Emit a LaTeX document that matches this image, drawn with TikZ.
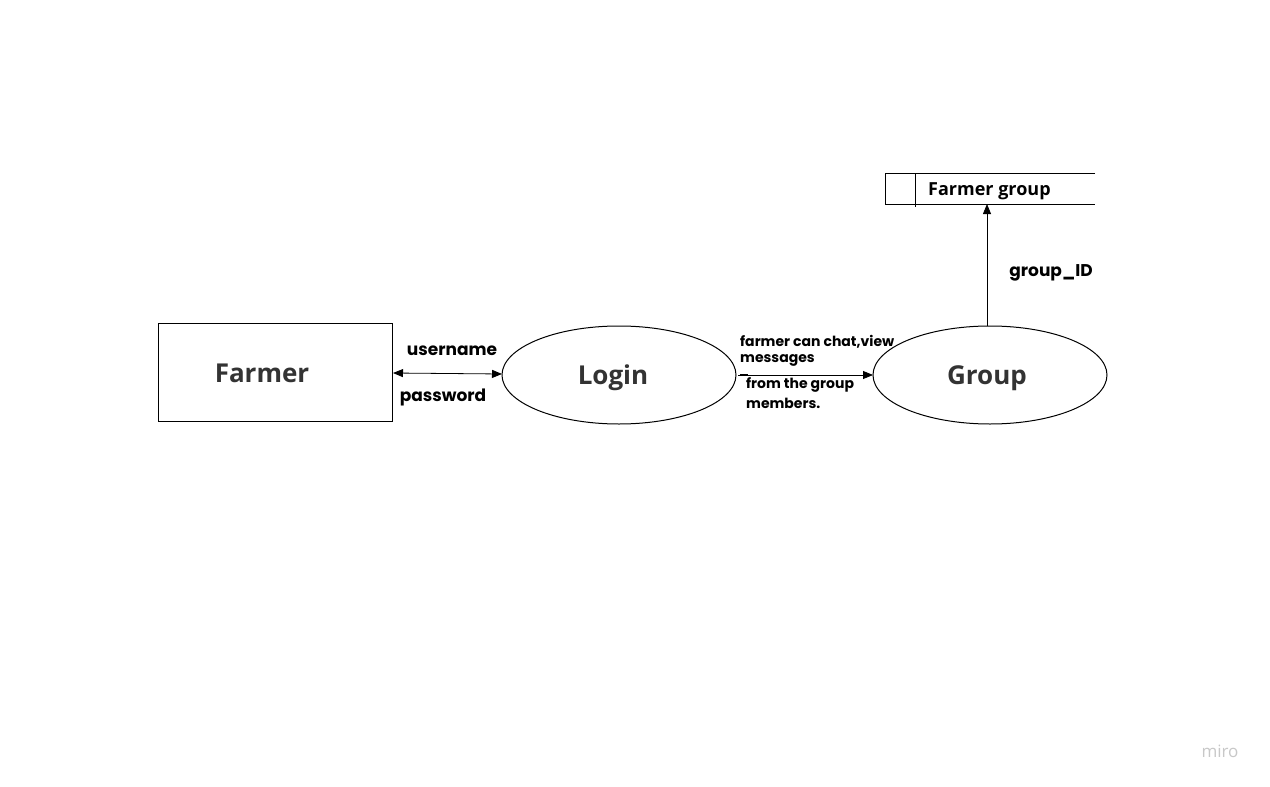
\documentclass[tikz,border=0pt]{standalone}
\usepackage{fontspec}
\setmainfont{Poppins}
\newfontfamily\headfont{Open Sans}
\usetikzlibrary{arrows.meta,shapes.geometric}
\definecolor{headgray}{HTML}{333333}
\definecolor{wmgray}{HTML}{C8C8C8}
\tikzset{
  shape line/.style={draw=black, line width=1pt},
  flow/.style={line width=0.8pt, -{Triangle[length=10pt,width=8pt]}},
  headtext/.style={font=\headfont\bfseries\fontsize{26}{30}\selectfont, text=headgray},
  lbl/.style={font=\bfseries\fontsize{17}{20}\selectfont, inner sep=0pt},
  smalllbl/.style={font=\bfseries\fontsize{14}{16}\selectfont, inner sep=0pt, anchor=west},
}
\begin{document}
\begin{tikzpicture}[x=1pt,y=-1pt]
\useasboundingbox[fill=white] (0,0) rectangle (1270,787);
% entity
\node[shape line, rectangle, minimum width=234pt, minimum height=98pt, inner sep=0pt] (farmer) at (275,372) {};
\node[headtext] (farmerT) at (262,373) {Farmer};
% processes
\node[shape line, ellipse, minimum width=234pt, minimum height=98pt, inner sep=0pt] (login) at (619,375) {};
\node[headtext] (loginT) at (613,378) {Login};
\node[shape line, ellipse, minimum width=234pt, minimum height=98pt, inner sep=0pt] (group) at (990,375) {};
\node[headtext] (groupT) at (987,378) {Group};
% data store
\coordinate (dsTL) at (885,173);
\coordinate (dsTR) at (1095,173);
\coordinate (dsBL) at (885,204);
\coordinate (dsBR) at (1095,204);
\coordinate (dsIT) at (915,173);
\coordinate (dsIB) at (915,207);
\draw[line width=0.9pt] (dsTR) -- (dsTL) -- (dsBL) -- (dsBR);
\draw[line width=0.9pt] (dsIT) -- (dsIB);
\node[font=\headfont\bfseries\fontsize{18}{21}\selectfont, anchor=west, inner sep=0pt] (storeT) at (928,191) {Farmer group};
\coordinate (storeIn) at (987,204);
% connectors
\coordinate (fR) at (393,373);
\coordinate (lL) at (502,374);
\draw[line width=0.8pt, {Triangle[length=10pt,width=8pt]}-{Triangle[length=10pt,width=8pt]}] (fR) -- (lL);
\node[lbl] (uname) at (452,351) {username};
\node[lbl] (pwd) at (443,397) {password};
\coordinate (lR) at (738,375);
\coordinate (gL) at (873,375);
\draw[flow] (lR) -- (gL);
\coordinate (tickA) at (740,374);
\coordinate (tickB) at (748,374);
\draw[line width=1pt] (tickA) -- (tickB);
\node[smalllbl] (l1) at (740,342) {farmer can chat,view};
\node[smalllbl] (l2) at (740,360) {messages};
\node[smalllbl] (l3) at (746,385) {from the group};
\node[smalllbl] (l4) at (746,403) {members.};
\coordinate (gT) at (987,326);
\draw[flow] (gT) -- (storeIn);
\node[lbl] (gid) at (1051,273) {group\_ID};
% watermark
\node[font=\headfont\fontsize{17}{20}\selectfont, text=wmgray] (miro) at (1220,751) {miro};
\end{tikzpicture}
\end{document}
